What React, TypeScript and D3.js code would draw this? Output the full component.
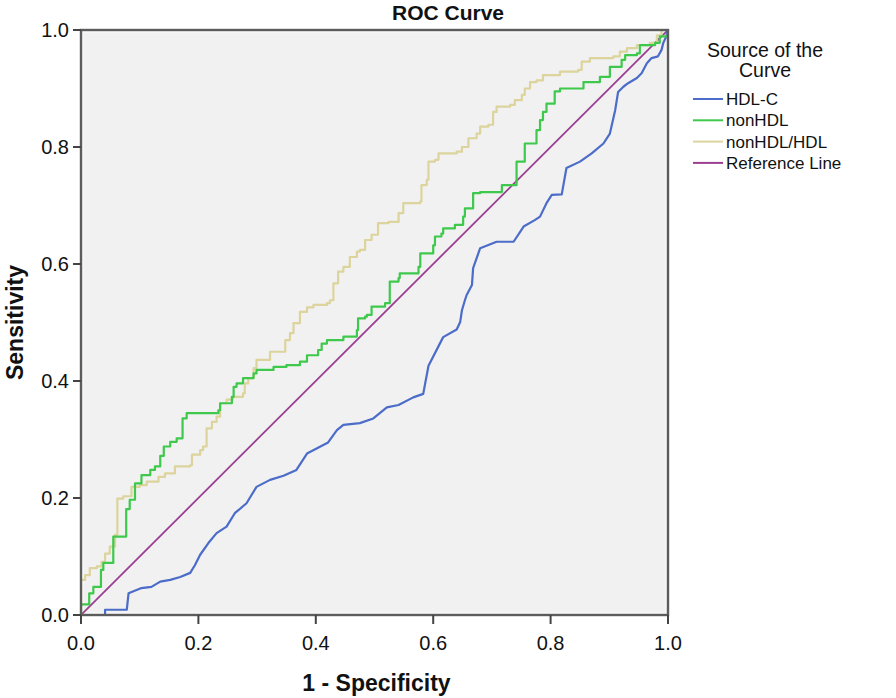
import React from "react";
import * as d3 from "d3";

const xTicks = [0, 0.2, 0.4, 0.6, 0.8, 1.0];
const yTicks = [0, 0.2, 0.4, 0.6, 0.8, 1.0];

const seriesNames = ["HDL-C", "nonHDL", "nonHDL/HDL", "Reference Line"];
const seriesColors = ["#4b6cc8", "#3ec94c", "#dcd49c", "#9a3f91"];

const hdlC: [number, number][] = [
  [0, 0], [0.041, 0], [0.041, 0.009], [0.078, 0.009], [0.081, 0.037], [0.103, 0.046], [0.12, 0.048],
  [0.135, 0.057], [0.152, 0.06], [0.169, 0.065], [0.186, 0.072], [0.194, 0.085], [0.203, 0.103],
  [0.217, 0.123], [0.231, 0.14], [0.248, 0.151], [0.262, 0.174], [0.282, 0.191], [0.299, 0.219],
  [0.322, 0.231], [0.345, 0.238], [0.367, 0.248], [0.385, 0.276], [0.421, 0.295], [0.436, 0.316],
  [0.447, 0.325], [0.475, 0.328], [0.498, 0.336], [0.509, 0.345], [0.521, 0.355], [0.541, 0.359],
  [0.566, 0.372], [0.583, 0.378], [0.592, 0.426], [0.617, 0.475], [0.64, 0.488], [0.646, 0.501],
  [0.649, 0.521], [0.654, 0.538], [0.657, 0.547], [0.666, 0.564], [0.668, 0.593], [0.68, 0.627],
  [0.708, 0.638], [0.737, 0.638], [0.754, 0.664], [0.773, 0.675], [0.782, 0.681], [0.793, 0.704],
  [0.802, 0.718], [0.819, 0.719], [0.827, 0.764], [0.85, 0.775], [0.87, 0.789], [0.89, 0.806],
  [0.901, 0.823], [0.91, 0.863], [0.915, 0.894], [0.924, 0.903], [0.932, 0.909], [0.947, 0.918],
  [0.955, 0.926], [0.964, 0.943], [0.972, 0.952], [0.983, 0.955], [0.989, 0.966], [0.992, 0.978],
  [0.997, 0.989], [1, 1],
];

const nonHDL: [number, number][] = [
  [0, 0], [0, 0.018], [0.014, 0.018], [0.014, 0.037], [0.021, 0.037], [0.021, 0.048], [0.034, 0.048],
  [0.034, 0.077], [0.038, 0.089], [0.055, 0.089], [0.055, 0.134], [0.077, 0.134], [0.077, 0.181],
  [0.083, 0.197], [0.092, 0.225], [0.103, 0.239], [0.118, 0.248], [0.126, 0.254], [0.135, 0.272],
  [0.141, 0.288], [0.152, 0.296], [0.163, 0.302], [0.173, 0.302], [0.173, 0.336], [0.18, 0.345],
  [0.234, 0.35], [0.237, 0.362], [0.257, 0.373], [0.26, 0.39], [0.265, 0.396], [0.276, 0.405],
  [0.294, 0.413], [0.299, 0.419], [0.325, 0.419], [0.328, 0.424], [0.35, 0.427], [0.373, 0.433],
  [0.385, 0.444], [0.404, 0.453], [0.41, 0.464], [0.419, 0.47], [0.444, 0.47], [0.447, 0.476],
  [0.47, 0.487], [0.472, 0.507], [0.484, 0.51], [0.487, 0.513], [0.495, 0.527], [0.518, 0.533],
  [0.526, 0.541], [0.526, 0.57], [0.541, 0.576], [0.543, 0.584], [0.575, 0.595], [0.578, 0.618],
  [0.6, 0.632], [0.603, 0.647], [0.614, 0.652], [0.617, 0.661], [0.637, 0.667], [0.651, 0.681],
  [0.654, 0.695], [0.666, 0.695], [0.668, 0.721], [0.68, 0.723], [0.702, 0.723], [0.717, 0.735],
  [0.742, 0.735], [0.742, 0.775], [0.756, 0.806], [0.771, 0.806], [0.776, 0.829], [0.782, 0.846],
  [0.787, 0.86], [0.793, 0.874], [0.807, 0.895], [0.816, 0.9], [0.839, 0.9], [0.856, 0.911],
  [0.884, 0.92], [0.901, 0.937], [0.921, 0.949], [0.927, 0.957], [0.947, 0.96], [0.952, 0.974],
  [0.978, 0.978], [0.986, 0.989], [1, 1],
];

const nonHDLRatio: [number, number][] = [
  [0, 0], [0, 0.06], [0.007, 0.068], [0.015, 0.08], [0.027, 0.083], [0.035, 0.091], [0.041, 0.105],
  [0.049, 0.117], [0.058, 0.137], [0.062, 0.137], [0.062, 0.199], [0.072, 0.203], [0.086, 0.219],
  [0.1, 0.222], [0.112, 0.228], [0.132, 0.236], [0.143, 0.242], [0.16, 0.254], [0.186, 0.256],
  [0.189, 0.274], [0.203, 0.282], [0.208, 0.288], [0.214, 0.311], [0.214, 0.319], [0.223, 0.33],
  [0.231, 0.339], [0.237, 0.362], [0.248, 0.368], [0.259, 0.373], [0.276, 0.379], [0.279, 0.396],
  [0.285, 0.405], [0.294, 0.422], [0.299, 0.436], [0.319, 0.436], [0.322, 0.45], [0.345, 0.45],
  [0.348, 0.47], [0.356, 0.482], [0.362, 0.499], [0.373, 0.518], [0.385, 0.526], [0.396, 0.53],
  [0.419, 0.533], [0.424, 0.538], [0.43, 0.567], [0.438, 0.587], [0.447, 0.595], [0.458, 0.612],
  [0.47, 0.621], [0.475, 0.624], [0.484, 0.641], [0.495, 0.65], [0.506, 0.67], [0.524, 0.672],
  [0.541, 0.687], [0.549, 0.704], [0.578, 0.707], [0.58, 0.735], [0.589, 0.744], [0.592, 0.775],
  [0.603, 0.778], [0.609, 0.789], [0.64, 0.792], [0.649, 0.8], [0.66, 0.815], [0.674, 0.823],
  [0.68, 0.835], [0.694, 0.838], [0.702, 0.86], [0.708, 0.869], [0.731, 0.872], [0.739, 0.88],
  [0.751, 0.889], [0.756, 0.9], [0.765, 0.911], [0.776, 0.914], [0.787, 0.923], [0.816, 0.929],
  [0.847, 0.932], [0.853, 0.946], [0.867, 0.952], [0.907, 0.955], [0.918, 0.963], [0.93, 0.969],
  [0.947, 0.974], [0.969, 0.978], [0.981, 0.991], [0.989, 1], [1, 1],
];

const referenceLine: [number, number][] = [[0, 0], [1, 1]];

const FONT = "'Liberation Sans', Arial, sans-serif";

export default function App() {
  const W = 896, H = 698;
  const left = 81, right = 668, top = 30, bottom = 615;
  const x = d3.scaleLinear().domain([0, 1]).range([left, right]);
  const y = d3.scaleLinear().domain([0, 1]).range([bottom, top]);
  const fmt = d3.format(".1f");

  const linear = d3.line<[number, number]>().x(d => x(d[0])).y(d => y(d[1]));
  const step = d3.line<[number, number]>().x(d => x(d[0])).y(d => y(d[1])).curve(d3.curveStepAfter);

  const series = [
    { data: hdlC, gen: linear, w: 2.2 },
    { data: nonHDL, gen: step, w: 2.2 },
    { data: nonHDLRatio, gen: step, w: 2.2 },
    { data: referenceLine, gen: linear, w: 1.8 },
  ];
  const drawOrder = [3, 0, 2, 1];

  return (
    <svg width={W} height={H} style={{ position: "absolute", left: 0, top: 0, background: "#fff" }} fontFamily={FONT}>
      <rect x={left} y={top} width={right - left} height={bottom - top} fill="#f1f1f1" />
      <rect x={left + 2} y={top + 2} width={right - left - 4} height={bottom - top - 4} fill="none" stroke="#fafafa" strokeWidth={1.2} />
      <defs>
        <clipPath id="plotclip">
          <rect x={left} y={top} width={right - left} height={bottom - top} />
        </clipPath>
      </defs>
      <g clipPath="url(#plotclip)">
        {drawOrder.map(i => (
          <path key={i} d={series[i].gen(series[i].data) || ""} fill="none"
            stroke={seriesColors[i]} strokeWidth={series[i].w} strokeLinejoin="round" />
        ))}
      </g>
      <rect x={left} y={top} width={right - left} height={bottom - top} fill="none" stroke="#5c5c5c" strokeWidth={2.4} />

      {yTicks.map(t => (
        <g key={"y" + t}>
          <line x1={left - 8} x2={left} y1={y(t)} y2={y(t)} stroke="#444" strokeWidth={2} />
          <text x={left - 12} y={y(t)} dy="0.36em" textAnchor="end" fontSize={20} fill="#111">{fmt(t)}</text>
        </g>
      ))}
      {xTicks.map(t => (
        <g key={"x" + t}>
          <line x1={x(t)} x2={x(t)} y1={bottom} y2={bottom + 9} stroke="#444" strokeWidth={2} />
          <text x={x(t)} y={650} textAnchor="middle" fontSize={20} fill="#111">{fmt(t)}</text>
        </g>
      ))}

      <text x={448} y={20} textAnchor="middle" fontSize={21} fontWeight="bold" fill="#111">ROC Curve</text>
      <text x={(left + right) / 2 + 2} y={691} textAnchor="middle" fontSize={23} fontWeight="bold" fill="#111">1 - Specificity</text>
      <text transform={`translate(23, ${(top + bottom) / 2}) rotate(-90)`} textAnchor="middle" fontSize={23} fontWeight="bold" fill="#111">Sensitivity</text>

      <text x={765} y={57} textAnchor="middle" fontSize={19.5} fill="#111">Source of the</text>
      <text x={765} y={77} textAnchor="middle" fontSize={19.5} fill="#111">Curve</text>
      {seriesNames.map((n, i) => {
        const cy = 99 + i * 21.3;
        return (
          <g key={n}>
            <line x1={693} x2={723} y1={cy} y2={cy} stroke={seriesColors[i]} strokeWidth={2} />
            <text x={726} y={cy} dy="0.36em" fontSize={17} fill="#111">{n}</text>
          </g>
        );
      })}
    </svg>
  );
}
